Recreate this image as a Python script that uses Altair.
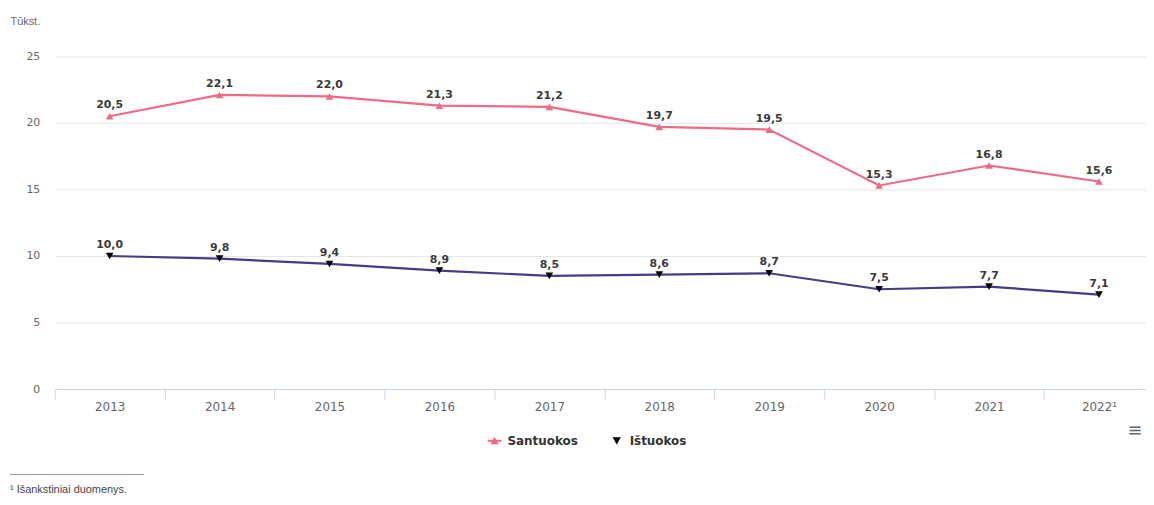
import altair as alt
import pandas as pd

years = ["2013", "2014", "2015", "2016", "2017", "2018", "2019", "2020", "2021", "2022¹"]
santuokos = [20.5, 22.1, 22.0, 21.3, 21.2, 19.7, 19.5, 15.3, 16.8, 15.6]
istuokos = [10.0, 9.8, 9.4, 8.9, 8.5, 8.6, 8.7, 7.5, 7.7, 7.1]
series_names = ["Santuokos", "Ištuokos"]
line_colors = ["#EE6A87", "#463C86"]
marker_colors = ["#EE6A87", "#000000"]
y_ticks = [0, 5, 10, 15, 20, 25]

rows = []
for yr, v in zip(years, santuokos):
    rows.append({"year": yr, "series": "Santuokos", "value": v})
for yr, v in zip(years, istuokos):
    rows.append({"year": yr, "series": "Ištuokos", "value": v})
df = pd.DataFrame(rows)

W, H = 1099, 335
XR = 1107

x_enc = alt.X(
    "year:N", sort=years, bandPosition=0.5,
    scale=alt.Scale(type="band", domain=years, range=[0, XR], paddingInner=0, paddingOuter=0),
    axis=alt.Axis(title=None, labelAngle=0, domainColor="#ccd6eb", tickColor="#ccd6eb",
                  tickSize=10, tickBand="extent", labelColor="#666666", labelFont="DejaVu Sans",
                  labelFontSize=12, labelPadding=3, grid=False),
)
y_enc = alt.Y(
    "value:Q", scale=alt.Scale(domain=[0, 25]),
    axis=alt.Axis(title="Tūkst.", titleAngle=0, titleAlign="left", titleBaseline="middle",
                  titleX=-45, titleY=-35, titleFont="Liberation Sans", titleFontSize=11,
                  titleFontWeight="normal", titleColor="#666666", values=y_ticks,
                  labelColor="#666666", labelFont="DejaVu Sans", labelFontSize=11,
                  labelPadding=15, ticks=False, domain=False, gridColor="#e6e6e6"),
)

base = alt.Chart(df)

lines = base.mark_line(strokeWidth=2.2).encode(
    x=x_enc, y=y_enc,
    color=alt.Color("series:N", scale=alt.Scale(domain=series_names, range=line_colors), legend=None),
)

points = base.mark_point(filled=True, size=60, opacity=1).encode(
    x=x_enc, y=y_enc,
    color=alt.Color("series:N", scale=alt.Scale(domain=series_names, range=marker_colors), legend=None),
    shape=alt.Shape("series:N", scale=alt.Scale(domain=series_names, range=["triangle-up", "triangle-down"]), legend=None),
)

labels = base.transform_calculate(
    label="replace(format(datum.value, '.1f'), '.', ',')"
).mark_text(dy=-8, baseline="alphabetic", font="DejaVu Sans", fontSize=11,
            fontWeight="bold", color="#3a3a3a").encode(
    x=x_enc, y=y_enc, text="label:N",
)

legend_cfg = alt.Legend(
    title=None, orient="none", legendX=436, legendY=380, direction="horizontal",
    symbolSize=196, labelFont="DejaVu Sans", labelFontSize=12, labelFontWeight="bold",
    labelColor="#333333", columnPadding=32, labelOffset=6, symbolStrokeWidth=0,
)
sym_paths = [
    "M-1,-0.14H1V0.14H-1Z M0,-0.55L0.6,0.5L-0.6,0.5Z",
    "M-0.6,-0.5L0.6,-0.5L0,0.55Z",
]
legend_layer = base.transform_filter("false").mark_point(filled=True, opacity=1).encode(
    x=x_enc, y=y_enc,
    color=alt.Color("series:N", scale=alt.Scale(domain=series_names, range=marker_colors), legend=legend_cfg),
    shape=alt.Shape("series:N", scale=alt.Scale(domain=series_names, range=sym_paths), legend=legend_cfg),
)

one = pd.DataFrame({"a": [0]})
foot_rule = alt.Chart(one).mark_rule(color="#999999", strokeWidth=1).encode(
    x=alt.value(-45), x2=alt.value(90), y=alt.value(421)
)
foot_text = alt.Chart(one).mark_text(align="left", baseline="middle", font="Liberation Sans",
                                      fontSize=11, color="#444444").encode(
    x=alt.value(-45), y=alt.value(437), text=alt.value("¹ Išankstiniai duomenys.")
)
menu = alt.Chart(one).mark_text(align="center", baseline="middle", font="DejaVu Sans",
                                 fontSize=18, color="#666666").encode(
    x=alt.value(1088), y=alt.value(377), text=alt.value("≡")
)

chart = alt.layer(lines, points, labels, legend_layer, foot_rule, foot_text, menu).resolve_scale(
    color="independent", shape="independent"
).properties(
    width=W, height=H,
    padding={"left": 47, "top": 47, "right": 0, "bottom": 107},
    autosize=alt.AutoSizeParams(type="none"),
).configure_view(stroke=None)

chart.save("out.html", embed_options={"renderer": "svg", "actions": False})
